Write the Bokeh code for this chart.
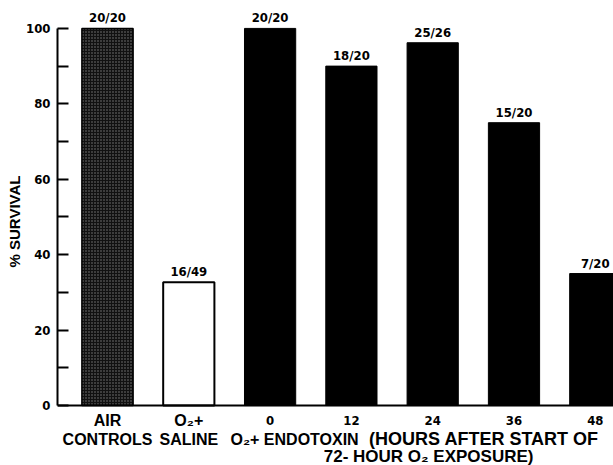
from bokeh.plotting import figure
from bokeh.models import Range1d, FixedTicker, Span, Title, ColumnDataSource
from bokeh.core.properties import value
from bokeh.embed import file_html
from bokeh.resources import INLINE

# ---- data ----
categories = ["AIR CONTROLS", "O2+ SALINE", "0", "12", "24", "36", "48"]
survival = [100, 32.7, 100, 90, 96.2, 75, 35]
counts = ["20/20", "16/49", "20/20", "18/20", "25/26", "15/20", "7/20"]
group_top = ["AIR", "O\u2082+"]
group_bottom = ["CONTROLS", "SALINE"]
hour_labels = ["0", "12", "24", "36", "48"]
endotoxin_part1 = "O\u2082+ ENDOTOXIN"
endotoxin_part2 = "(HOURS AFTER START OF"
endotoxin_line2 = "72- HOUR O\u2082 EXPOSURE)"
y_title = "% SURVIVAL"
y_ticks = [0, 20, 40, 60, 80, 100]
y_minor = [10, 30, 50, 70, 90]

xs = list(range(len(categories)))

COND = value("DejaVu Sans Condensed")
SANS = value("Liberation Sans")

p = figure(width=613, height=465, output_backend="svg", toolbar_location=None,
           x_range=Range1d(-0.615, 6.224), y_range=Range1d(-15.9, 107.4),
           x_axis_location=None, min_border_left=57, min_border_right=0,
           min_border_top=0, min_border_bottom=0)
p.outline_line_color = None
p.grid.visible = False
p.background_fill_color = "white"

# bars
air = ColumnDataSource(dict(x=xs[:1], top=survival[:1]))
sal = ColumnDataSource(dict(x=xs[1:2], top=survival[1:2]))
endo = ColumnDataSource(dict(x=xs[2:], top=survival[2:]))
p.vbar(x="x", top="top", bottom=0, width=0.63, source=air,
       fill_color="#111111", hatch_pattern="dot", hatch_color="#808080",
       hatch_scale=3, hatch_weight=1, line_color="black", line_width=1.5)
p.vbar(x="x", top="top", bottom=0, width=0.63, source=sal,
       fill_color="white", line_color="black", line_width=2)
p.vbar(x="x", top="top", bottom=0, width=0.63, source=endo,
       fill_color="black", line_color="black", line_width=1)

# baseline
p.add_layout(Span(location=0, dimension="width", line_color="black", line_width=2))

# count labels
p.text(x=xs, y=survival, text=counts, text_align="center", text_baseline="bottom",
       y_offset=-3, text_font=COND, text_font_style="bold", text_font_size="13px",
       text_color="black")

# category labels
p.text(x=xs[:2], y=[-4.1] * 2, text=group_top, text_align="center", text_baseline="middle",
       text_font=SANS, text_font_style="bold", text_font_size="16px", text_color="black")
p.text(x=xs[:2], y=[-8.9] * 2, text=group_bottom, text_align="center", text_baseline="middle",
       text_font=SANS, text_font_style="bold", text_font_size="16px", text_color="black")
p.text(x=xs[2:], y=[-3.85] * 5, text=hour_labels, text_align="center", text_baseline="middle",
       text_font=COND, text_font_style="bold", text_font_size="13px", text_color="black")
p.text(x=[1.513], y=[-8.9], text=[endotoxin_part1], text_align="left", text_baseline="middle",
       text_font=SANS, text_font_style="bold", text_font_size="16px", text_color="black")
p.text(x=[4.63], y=[-8.9], text=[endotoxin_part2], text_align="center", text_baseline="middle",
       text_font=SANS, text_font_style="bold", text_font_size="18px", text_color="black")
p.text(x=[3.95], y=[-13.6], text=[endotoxin_line2], text_align="center", text_baseline="middle",
       text_font=SANS, text_font_style="bold", text_font_size="17px", text_color="black")

# y axis
ax = p.yaxis[0]
ax.bounds = (0, 100)
ax.ticker = FixedTicker(ticks=y_ticks, minor_ticks=y_minor)
ax.axis_line_width = 2
ax.axis_line_color = "black"
ax.major_tick_in = 11
ax.major_tick_out = 0
ax.minor_tick_in = 11
ax.minor_tick_out = 0
ax.major_tick_line_width = 2
ax.minor_tick_line_width = 2
ax.major_label_text_font = "DejaVu Sans Condensed"
ax.major_label_text_font_style = "bold"
ax.major_label_text_font_size = "13px"
ax.major_label_text_color = "black"
ax.major_label_standoff = 7

p.add_layout(Title(text=y_title, align="left", offset=198, standoff=2,
                   text_font="Liberation Sans", text_font_style="bold",
                   text_font_size="15px", text_color="black"), "left")

open("out.html", "w").write(file_html(p, INLINE))
